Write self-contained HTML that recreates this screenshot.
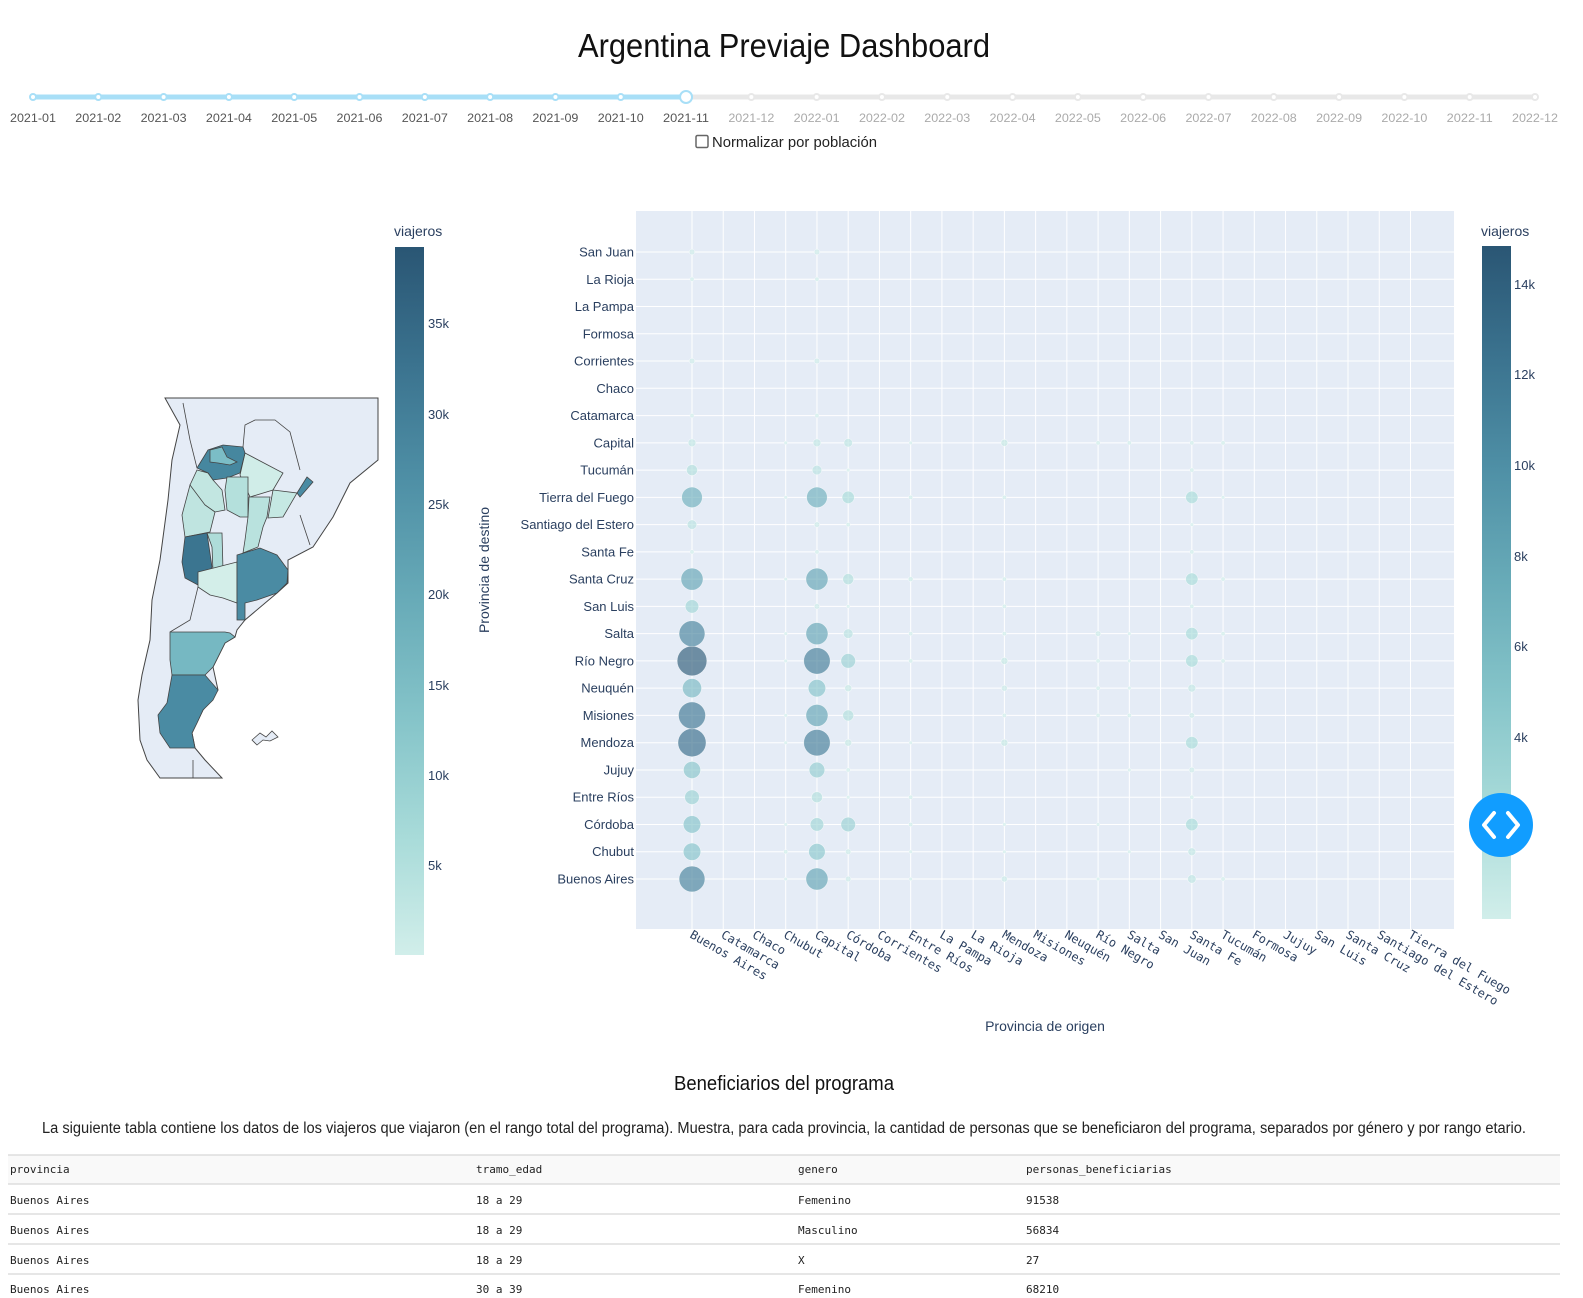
<!DOCTYPE html>
<html><head><meta charset="utf-8">
<style>
body{margin:0;background:#fff;width:1583px;height:1298px;overflow:hidden;position:relative;font-family:"Liberation Sans",sans-serif;}
svg{position:absolute;left:0;top:0}
.mono{font-family:"DejaVu Sans Mono","Liberation Mono",monospace}
</style></head><body>
<svg id="root" width="1583" height="1298">
<defs>
<linearGradient id="cs" x1="0" y1="1" x2="0" y2="0">
<stop offset="0" stop-color="rgb(209,238,234)"/><stop offset="0.1667" stop-color="rgb(168,219,217)"/>
<stop offset="0.3333" stop-color="rgb(133,196,201)"/><stop offset="0.5" stop-color="rgb(104,171,184)"/>
<stop offset="0.6667" stop-color="rgb(79,144,166)"/><stop offset="0.8333" stop-color="rgb(59,115,143)"/>
<stop offset="1" stop-color="rgb(42,86,116)"/></linearGradient>
</defs>
<text x="578" y="57" textLength="412" lengthAdjust="spacingAndGlyphs" font-size="33" fill="#111">Argentina Previaje Dashboard</text>
<g id="slider"></g>
<g>
<rect x="696" y="135.5" width="12" height="12" rx="1.5" fill="#fff" stroke="#666" stroke-width="1.5"/>
<text x="712" y="147" textLength="165" lengthAdjust="spacingAndGlyphs" font-size="15" fill="#222">Normalizar por población</text></g>

<g>
<path d="M165,398 L378,398 L378,460 L350,483 L333,517 L313,547 L288,560 L288,583 L277,593 L245,620 L237,630 L235,637 L225,643 L213,667 L218,690 L203,710 L192,733 L195,748 L205,760 L222,778 L160,778 L147,760 L140,740 L138,700 L142,675 L150,640 L152,600 L160,560 L168,500 L172,460 L180,425 Z" fill="#e5ecf6" stroke="#444" stroke-width="1"/>
<path d="M183,403 L190,440 L197,468 M243,447 L245,425 L255,420 L275,420 L290,432 L300,470 M198,587 L190,620 L170,632 M300,515 L305,530 L310,545" fill="none" stroke="#444" stroke-width="0.8"/>
<polygon points="245,453 283,473 273,490 250,497 240,475" fill="#d0ede8" stroke="#444" stroke-width="0.8"/>
<polygon points="197,468 208,450 223,445 243,447 245,453 240,473 227,478 213,480 208,473" fill="#46879f" stroke="#444" stroke-width="0.8"/>
<polygon points="210,450 222,447 227,457 237,462 230,465 218,463 210,462" fill="#7bbdc6" stroke="#444" stroke-width="0.8"/>
<polygon points="197,470 208,473 213,480 222,490 225,510 215,512 205,505 195,500 190,485" fill="#c2e6e1" stroke="#444" stroke-width="0.8"/>
<polygon points="190,485 205,505 215,512 210,532 185,537 182,515" fill="#bfe4e0" stroke="#444" stroke-width="0.8"/>
<polygon points="227,477 248,477 248,517 240,517 227,510 225,490" fill="#b4e0dc" stroke="#444" stroke-width="0.8"/>
<polygon points="249,497 270,497 267,517 263,527 258,547 243,553 245,540 248,517" fill="#b9e2de" stroke="#444" stroke-width="0.8"/>
<polygon points="273,490 297,493 283,517 268,518" fill="#c5e8e3" stroke="#444" stroke-width="0.8"/>
<polygon points="297,493 307,477 313,482 300,497" fill="#4a8ba3" stroke="#444" stroke-width="0.8"/>
<polygon points="207,533 222,533 223,570 213,572 212,547" fill="#aedcd9" stroke="#444" stroke-width="0.8"/>
<polygon points="185,537 207,533 212,567 210,572 200,572 198,585 185,578 182,562" fill="#3b7590" stroke="#444" stroke-width="0.8"/>
<polygon points="198,572 237,562 237,603 223,598 210,595 198,587" fill="#d3eee9" stroke="#444" stroke-width="0.8"/>
<polygon points="237,555 260,548 277,555 288,570 287,583 277,593 257,600 245,603 245,620 237,620" fill="#4a8ba3" stroke="#444" stroke-width="0.8"/>
<polygon points="170,632 225,632 230,633 235,637 225,643 220,653 213,667 205,675 172,675 170,660" fill="#76b8c2" stroke="#444" stroke-width="0.8"/>
<polygon points="172,675 205,675 218,690 213,700 203,710 197,723 192,733 195,748 170,748 160,733 158,715 167,703" fill="#4a8ba3" stroke="#444" stroke-width="0.8"/>
<path d="M193,760 L193,778" stroke="#444" stroke-width="0.8"/>
<polygon points="252,740 260,733 266,737 272,731 278,737 270,741 263,740 257,745" fill="#e5ecf6" stroke="#444" stroke-width="0.8"/>
</g>

<g>
<text x="394" y="236" font-size="14" fill="#2a3f5f">viajeros</text>
<rect x="395" y="247" width="29" height="708" fill="url(#cs)"/>
<g font-size="13" fill="#2a3f5f">
<text x="428" y="328">35k</text><text x="428" y="419">30k</text><text x="428" y="509">25k</text><text x="428" y="599">20k</text><text x="428" y="690">15k</text><text x="428" y="780">10k</text><text x="428" y="870">5k</text></g>
</g>

<g id="bubble">
<rect x="636" y="211" width="818" height="718" fill="#e5ecf6"/>
<g id="grid"></g><g id="marks"></g><g id="ylabels" font-size="13" fill="#2a3f5f"></g><g id="xlabels" font-size="12" fill="#2a3f5f" class="mono"></g>
<text x="1045" y="1031" text-anchor="middle" font-size="14" fill="#2a3f5f">Provincia de origen</text>
<text transform="translate(489,570) rotate(-90)" text-anchor="middle" font-size="14" fill="#2a3f5f">Provincia de destino</text>
</g>
<g>
<text x="1481" y="236" font-size="14" fill="#2a3f5f">viajeros</text>
<rect x="1482" y="246" width="29" height="673" fill="url(#cs)"/>
<g font-size="13" fill="#2a3f5f">
<text x="1514" y="289">14k</text><text x="1514" y="379">12k</text><text x="1514" y="470">10k</text><text x="1514" y="561">8k</text><text x="1514" y="651">6k</text><text x="1514" y="742">4k</text></g>
</g>
<g>
<circle cx="1501" cy="825" r="32" fill="#119dff"/>
<path d="M1494,813 L1484,825 L1494,837 M1508,813 L1518,825 L1508,837" fill="none" stroke="#fff" stroke-width="4" stroke-linecap="round" stroke-linejoin="round"/>
</g>

<text x="674" y="1090" textLength="220" lengthAdjust="spacingAndGlyphs" font-size="20" fill="#111">Beneficiarios del programa</text>
<text x="42" y="1133" textLength="1484" lengthAdjust="spacingAndGlyphs" font-size="15.5" fill="#222">La siguiente tabla contiene los datos de los viajeros que viajaron (en el rango total del programa). Muestra, para cada provincia, la cantidad de personas que se beneficiaron del programa, separados por género y por rango etario.</text>

<g class="mono" font-size="11" fill="#222">
<rect x="8" y="1155" width="1552" height="29" fill="#f9f9f9"/>
<g stroke="#ddd" stroke-width="1.5"><line x1="8" y1="1155" x2="1560" y2="1155"/><line x1="8" y1="1184" x2="1560" y2="1184"/><line x1="8" y1="1214" x2="1560" y2="1214"/><line x1="8" y1="1244" x2="1560" y2="1244"/><line x1="8" y1="1274" x2="1560" y2="1274"/></g>
<g><text x="10" y="1173">provincia</text><text x="476" y="1173">tramo_edad</text><text x="798" y="1173">genero</text><text x="1026" y="1173">personas_beneficiarias</text></g>
<g><text x="10" y="1204">Buenos Aires</text><text x="476" y="1204">18 a 29</text><text x="798" y="1204">Femenino</text><text x="1026" y="1204">91538</text></g>
<g><text x="10" y="1234">Buenos Aires</text><text x="476" y="1234">18 a 29</text><text x="798" y="1234">Masculino</text><text x="1026" y="1234">56834</text></g>
<g><text x="10" y="1264">Buenos Aires</text><text x="476" y="1264">18 a 29</text><text x="798" y="1264">X</text><text x="1026" y="1264">27</text></g>
<g><text x="10" y="1293">Buenos Aires</text><text x="476" y="1293">30 a 39</text><text x="798" y="1293">Femenino</text><text x="1026" y="1293">68210</text></g>
</g>
</svg>
<script>
const NS='http://www.w3.org/2000/svg';
const months=['2021-01','2021-02','2021-03','2021-04','2021-05','2021-06','2021-07','2021-08','2021-09','2021-10','2021-11','2021-12','2022-01','2022-02','2022-03','2022-04','2022-05','2022-06','2022-07','2022-08','2022-09','2022-10','2022-11','2022-12'];
const selectedMonth=10;
const origins=['Buenos Aires','Catamarca','Chaco','Chubut','Capital','Córdoba','Corrientes','Entre Ríos','La Pampa','La Rioja','Mendoza','Misiones','Neuquén','Río Negro','Salta','San Juan','Santa Fe','Tucumán','Formosa','Jujuy','San Luis','Santa Cruz','Santiago del Estero','Tierra del Fuego'];
const dests=['Buenos Aires','Chubut','Córdoba','Entre Ríos','Jujuy','Mendoza','Misiones','Neuquén','Río Negro','Salta','San Luis','Santa Cruz','Santa Fe','Santiago del Estero','Tierra del Fuego','Tucumán','Capital','Catamarca','Chaco','Corrientes','Formosa','La Pampa','La Rioja','San Juan'];
const valBuenosAires=[11000,5000,5000,3500,4800,13000,12000,6000,14500,11000,3000,8000,300,1500,7000,2000,1000,300,0,500,0,0,300,500];
const valCapital=[8000,4500,3000,2000,4000,11500,8000,5000,11500,8000,500,8000,300,500,7000,1500,1000,300,0,500,0,0,300,500];
const valCordoba=[500,500,3500,200,300,800,2000,800,3500,1500,200,2000,0,300,2500,100,1200,0,0,0,0,0,0,0];
const valSantaFe=[1200,1000,2500,300,500,2500,500,1000,2500,2500,300,2500,300,200,2500,300,300,0,0,0,0,0,0,0];
const valMendoza=[600,200,200,0,0,800,300,600,800,300,300,300,0,0,300,0,800,0,0,0,0,0,0,0];
const valEntreRios=[200,200,300,300,0,200,0,0,300,300,0,400,0,0,300,0,200,0,0,0,0,0,0,0];
const valTucuman=[300,0,0,0,0,0,0,0,300,300,0,300,0,0,200,0,300,0,0,0,0,0,0,0];
const valRioNegro=[200,0,200,0,0,0,300,300,300,500,0,0,0,0,0,0,300,0,0,0,0,0,0,0];
const valSalta=[0,200,0,0,200,0,300,200,200,200,0,0,0,0,0,0,300,0,0,0,0,0,0,0];
const valChubut=[200,300,200,0,0,200,200,0,200,200,0,200,0,0,200,0,200,0,0,0,0,0,0,0];
const seriesOrigins=['Buenos Aires','Capital','Córdoba','Santa Fe','Mendoza','Entre Ríos','Tucumán','Río Negro','Salta','Chubut'];
const seriesValues=[valBuenosAires,valCapital,valCordoba,valSantaFe,valMendoza,valEntreRios,valTucuman,valRioNegro,valSalta,valChubut];
const cmax=14800;

function mk(tag,attrs,parent){const e=document.createElementNS(NS,tag);for(const k in attrs)e.setAttribute(k,attrs[k]);parent.appendChild(e);return e;}
const sl=document.getElementById('slider');
const sx=i=>33+i*(1535-33)/(months.length-1);
mk('line',{x1:sx(0),y1:97,x2:sx(months.length-1),y2:97,stroke:'#e8e8e8','stroke-width':5},sl);
mk('line',{x1:sx(0),y1:97,x2:sx(selectedMonth),y2:97,stroke:'#a8dff7','stroke-width':5},sl);
months.forEach((m,i)=>{
  const active=i<=selectedMonth;
  const c=mk('circle',{cx:sx(i),cy:97,r:i===selectedMonth?6:3,fill:'#fff',stroke:active?'#a8dff7':'#e8e8e8','stroke-width':2},sl);
  
  
  const t=mk('text',{x:sx(i),y:122,'text-anchor':'middle','font-size':11.5,fill:active?'#555':'#aaa',textLength:46,lengthAdjust:'spacingAndGlyphs'},sl);
  t.textContent=m;
  
  
});
const xs=j=>692+j*(1410.5-692)/(origins.length-1);
const ys=i=>879-i*(879-252)/(dests.length-1);
const grid=document.getElementById('grid');
origins.forEach((o,j)=>mk('line',{x1:xs(j),y1:211,x2:xs(j),y2:929,stroke:'#fff','stroke-width':1},grid));
dests.forEach((d,i)=>mk('line',{x1:636,y1:ys(i),x2:1454,y2:ys(i),stroke:'#fff','stroke-width':1},grid));
const yl=document.getElementById('ylabels');
dests.forEach((d,i)=>{const t=mk('text',{x:634,y:ys(i)+4.5,'text-anchor':'end'},yl);t.textContent=d;
  
  });
const xl=document.getElementById('xlabels');
origins.forEach((o,j)=>{const t=mk('text',{transform:`translate(${xs(j)-3},${937}) rotate(30)`},xl);t.textContent=o;
  
  });
const stops=[[209,238,234],[168,219,217],[133,196,201],[104,171,184],[79,144,166],[59,115,143],[42,86,116]];
function color(v){let t=Math.min(1,v/cmax)*(stops.length-1);const i=Math.min(stops.length-2,Math.floor(t));const f=t-i;
  const c=stops[i].map((a,k)=>Math.round(a+(stops[i+1][k]-a)*f));return `rgb(${c})`;}
const marks=document.getElementById('marks');
seriesOrigins.forEach((o,s)=>{
  const j=origins.indexOf(o);
  seriesValues[s].forEach((v,i)=>{
    if(!v)return;
    const r=Math.max(1.8,15*Math.sqrt(v/cmax));
    const c=mk('circle',{cx:xs(j),cy:ys(i),r:r,fill:color(v),'fill-opacity':0.65,stroke:'#fff','stroke-width':0.6,'stroke-opacity':0.6},marks);
    
    
  });
});
</script>
</body></html>
